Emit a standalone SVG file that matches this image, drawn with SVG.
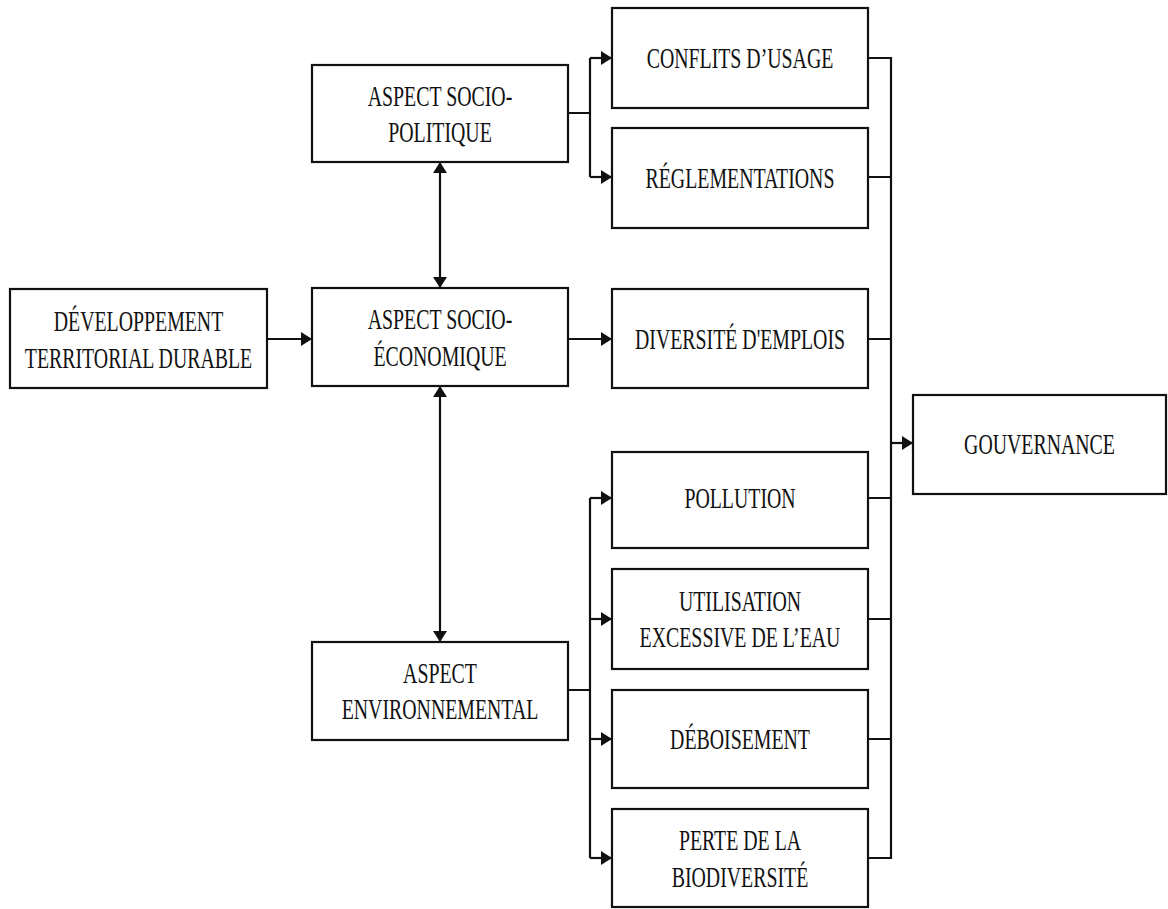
<svg xmlns="http://www.w3.org/2000/svg" width="1168" height="909" viewBox="0 0 1168 909">
<style>
.box{fill:#fff;stroke:#111;stroke-width:2.2}
.t{font-family:'Liberation Serif','Times New Roman',serif;font-size:29px;fill:#111;text-anchor:middle}
.c{fill:none;stroke:#111;stroke-width:2.2}
</style>
<defs>
<marker id="ah" markerUnits="userSpaceOnUse" viewBox="0 0 11 14" markerWidth="11" markerHeight="14" refX="11" refY="7" orient="auto-start-reverse">
<path d="M0,0 L11,7 L0,14 z" fill="#111"/>
</marker>
</defs>
<rect width="1168" height="909" fill="#fff"/>
<g id="connectors">
<path class="c" d="M267,339 H312" marker-end="url(#ah)"/>
<path class="c" d="M440,162 V288" marker-start="url(#ah)" marker-end="url(#ah)"/>
<path class="c" d="M440,386 V642" marker-start="url(#ah)" marker-end="url(#ah)"/>
<path class="c" d="M568,113 H590 M590,58 V177"/>
<path class="c" d="M590,58 H612" marker-end="url(#ah)"/>
<path class="c" d="M590,177 H612" marker-end="url(#ah)"/>
<path class="c" d="M568,339 H612" marker-end="url(#ah)"/>
<path class="c" d="M568,690 H590 M590,498 V858"/>
<path class="c" d="M590,498 H612" marker-end="url(#ah)"/>
<path class="c" d="M590,619 H612" marker-end="url(#ah)"/>
<path class="c" d="M590,739 H612" marker-end="url(#ah)"/>
<path class="c" d="M590,858 H612" marker-end="url(#ah)"/>
<path class="c" d="M868,58 H891 M868,177 H891 M868,339 H891 M868,498 H891 M868,619 H891 M868,739 H891 M868,858 H891 M891,57 V859"/>
<path class="c" d="M891,443 H913" marker-end="url(#ah)"/>
</g>
<g id="dev">
<rect class="box" x="10" y="289" width="257" height="99"/>
<text class="t" transform="translate(138.5,331) scale(0.684,1)">DÉVELOPPEMENT</text>
<text class="t" transform="translate(138.5,368) scale(0.684,1)">TERRITORIAL DURABLE</text>
</g>
<g id="socpol">
<rect class="box" x="312" y="65" width="256" height="97"/>
<text class="t" transform="translate(440,106) scale(0.684,1)">ASPECT SOCIO-</text>
<text class="t" transform="translate(440,142) scale(0.684,1)">POLITIQUE</text>
</g>
<g id="soceco">
<rect class="box" x="312" y="288" width="256" height="98"/>
<text class="t" transform="translate(440,329) scale(0.684,1)">ASPECT SOCIO-</text>
<text class="t" transform="translate(440,366) scale(0.684,1)">ÉCONOMIQUE</text>
</g>
<g id="env">
<rect class="box" x="312" y="642" width="256" height="98"/>
<text class="t" transform="translate(440,683) scale(0.684,1)">ASPECT</text>
<text class="t" transform="translate(440,719) scale(0.684,1)">ENVIRONNEMENTAL</text>
</g>
<g id="conflits">
<rect class="box" x="612" y="8" width="256" height="100"/>
<text class="t" transform="translate(740,68) scale(0.684,1)">CONFLITS D’USAGE</text>
</g>
<g id="regl">
<rect class="box" x="612" y="128" width="256" height="100"/>
<text class="t" transform="translate(740,188) scale(0.684,1)">RÉGLEMENTATIONS</text>
</g>
<g id="divers">
<rect class="box" x="612" y="289" width="256" height="99"/>
<text class="t" transform="translate(740,348.5) scale(0.684,1)">DIVERSITÉ D'EMPLOIS</text>
</g>
<g id="pollution">
<rect class="box" x="612" y="452" width="256" height="96"/>
<text class="t" transform="translate(740,508) scale(0.684,1)">POLLUTION</text>
</g>
<g id="utilisation">
<rect class="box" x="612" y="569" width="256" height="100"/>
<text class="t" transform="translate(740,611) scale(0.684,1)">UTILISATION</text>
<text class="t" transform="translate(740,647) scale(0.684,1)">EXCESSIVE DE L’EAU</text>
</g>
<g id="deboisement">
<rect class="box" x="612" y="690" width="256" height="98"/>
<text class="t" transform="translate(740,749) scale(0.684,1)">DÉBOISEMENT</text>
</g>
<g id="perte">
<rect class="box" x="612" y="809" width="256" height="98"/>
<text class="t" transform="translate(740,850) scale(0.684,1)">PERTE DE LA</text>
<text class="t" transform="translate(740,887) scale(0.684,1)">BIODIVERSITÉ</text>
</g>
<g id="gouv">
<rect class="box" x="913" y="395" width="253" height="99"/>
<text class="t" transform="translate(1039.5,454) scale(0.684,1)">GOUVERNANCE</text>
</g>
</svg>
